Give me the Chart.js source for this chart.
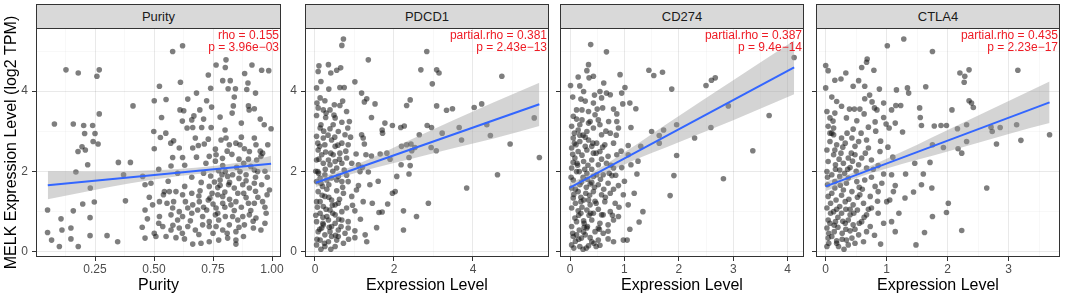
<!DOCTYPE html>
<html><head><meta charset="utf-8">
<script src="https://cdn.jsdelivr.net/npm/chart.js@4.4.1/dist/chart.umd.min.js"></script>
<style>
html,body{margin:0;padding:0;background:#fff;}
#wrap{position:relative;width:1065px;height:298px;overflow:hidden;font-family:"Liberation Sans",Arial,sans-serif;}
canvas{position:absolute;top:0;}
.strip{position:absolute;top:4px;height:25px;box-sizing:border-box;background:#d9d9d9;border:1px solid #333;color:#1a1a1a;font-size:13px;line-height:23px;text-align:center;}
.ann{position:absolute;top:29px;text-align:right;color:#ee1c25;font-size:12px;line-height:12px;white-space:nowrap;}
</style></head>
<body><div id="wrap"></div>
<script>
// ---------- DATA ----------
const panelNames = ['Purity','PDCD1','CD274','CTLA4'];
const annotations = [['rho = 0.155','p = 3.96e\u221203'],['partial.rho = 0.381','p = 2.43e\u221213'],['partial.rho = 0.387','p = 9.4e\u221214'],['partial.rho = 0.435','p = 2.23e\u221217']];
const xTitles = ['Purity','Expression Level','Expression Level','Expression Level'];
const yTitle = 'MELK Expression Level (log2 TPM)';

const yMajor = [0,2,4];
const yLabels = ['0','2','4'];
const yMinor = [1,3,5];

const purityXMajor = [0.25,0.5,0.75,1.0];
const purityXLabels = ['0.25','0.50','0.75','1.00'];
const purityXMinor = [0.125,0.375,0.625,0.875];
const pdcd1XMajor = [0,2,4];
const pdcd1XLabels = ['0','2','4'];
const pdcd1XMinor = [1,3,5];
const cd274XMajor = [0,1,2,3,4];
const cd274XLabels = ['0','1','2','3','4'];
const cd274XMinor = [0.5,1.5,2.5,3.5];
const ctla4XMajor = [0,1,2,3];
const ctla4XLabels = ['0','1','2','3'];
const ctla4XMinor = [0.5,1.5,2.5,3.5];

// [x, y]
const purityPoints = [[0.579,4.99],[0.621,5.13],[0.127,4.53],[0.179,4.45],[0.268,4.53],[0.258,4.37],[0.763,4.65],[0.805,4.78],[0.802,4.59],[0.915,4.65],[0.956,4.52],[0.986,4.51],[0.884,4.44],[0.791,4.26],[0.823,4.26],[0.612,4.22],[0.898,4.20],[0.523,4.12],[0.740,4.07],[0.814,4.06],[0.845,4.06],[0.893,4.04],[0.501,3.76],[0.551,3.79],[0.643,3.80],[0.723,3.76],[0.744,3.60],[0.411,3.63],[0.268,3.43],[0.610,3.53],[0.626,3.51],[0.694,3.53],[0.836,3.63],[0.900,3.63],[0.925,3.56],[0.903,3.53],[0.831,3.45],[0.669,3.38],[0.660,3.28],[0.532,3.34],[0.078,3.18],[0.158,3.18],[0.202,3.14],[0.240,3.14],[0.206,2.94],[0.250,2.94],[0.242,2.74],[0.263,2.68],[0.195,2.61],[0.209,2.53],[0.178,2.49],[0.219,2.16],[0.169,1.98],[0.349,2.22],[0.400,2.22],[0.371,1.91],[0.230,1.58],[0.499,2.99],[0.527,2.84],[0.501,2.56],[0.571,2.70],[0.583,2.76],[0.607,2.58],[0.621,2.34],[0.579,2.34],[0.572,2.13],[0.640,3.08],[0.664,3.09],[0.702,3.09],[0.742,3.09],[0.675,2.83],[0.688,2.64],[0.713,2.68],[0.664,2.58],[0.734,2.37],[0.763,2.41],[0.784,2.78],[0.801,3.03],[0.805,2.83],[0.819,2.66],[0.847,2.70],[0.864,2.66],[0.883,2.56],[0.904,2.49],[0.925,2.83],[0.932,2.66],[0.967,3.16],[0.996,3.06],[0.982,2.66],[0.960,2.45],[0.953,2.37],[0.935,2.28],[0.791,2.14],[0.774,2.01],[0.802,1.99],[0.788,1.91],[0.812,1.87],[0.833,1.91],[0.864,1.99],[0.890,1.91],[0.925,2.03],[0.939,1.99],[0.452,1.87],[0.487,1.70],[0.462,1.66],[0.544,1.49],[0.565,1.49],[0.593,1.49],[0.540,1.41],[0.621,1.41],[0.660,1.45],[0.695,1.51],[0.734,1.62],[0.756,1.73],[0.770,1.59],[0.746,1.45],[0.737,1.33],[0.770,1.41],[0.791,1.37],[0.816,1.66],[0.840,1.58],[0.855,1.45],[0.876,1.66],[0.904,1.58],[0.925,1.70],[0.956,1.66],[0.989,1.53],[0.979,1.41],[0.960,1.24],[0.925,1.20],[0.890,1.34],[0.847,1.24],[0.826,1.16],[0.791,1.20],[0.763,1.08],[0.723,1.03],[0.692,1.24],[0.664,1.16],[0.633,1.24],[0.583,1.24],[0.555,1.20],[0.523,1.24],[0.494,1.16],[0.579,1.08],[0.607,0.99],[0.643,1.08],[0.685,1.03],[0.379,1.26],[0.247,1.23],[0.198,1.18],[0.158,1.01],[0.049,1.03],[0.229,0.84],[0.106,0.81],[0.462,1.03],[0.472,0.81],[0.523,0.87],[0.572,0.91],[0.600,0.78],[0.621,0.87],[0.654,0.76],[0.706,0.87],[0.734,0.74],[0.760,0.91],[0.774,0.78],[0.802,0.87],[0.833,0.87],[0.855,0.78],[0.876,0.87],[0.904,0.91],[0.932,0.83],[0.975,0.95],[0.953,0.53],[0.921,0.58],[0.883,0.66],[0.847,0.49],[0.819,0.66],[0.791,0.53],[0.763,0.62],[0.734,0.62],[0.706,0.66],[0.675,0.53],[0.643,0.62],[0.607,0.58],[0.572,0.53],[0.537,0.62],[0.501,0.45],[0.462,0.33],[0.508,0.37],[0.551,0.37],[0.593,0.34],[0.629,0.31],[0.664,0.18],[0.699,0.20],[0.734,0.24],[0.774,0.28],[0.812,0.33],[0.847,0.28],[0.847,0.18],[0.879,0.37],[0.346,0.24],[0.301,0.39],[0.229,0.39],[0.179,0.12],[0.148,0.31],[0.148,0.58],[0.110,0.53],[0.066,0.28],[0.099,0.12],[0.049,0.47],[0.72,2.20],[0.76,2.25],[0.79,2.32],[0.83,2.42],[0.86,2.30],[0.88,2.20],[0.91,2.12],[0.74,1.88],[0.78,1.78],[0.82,1.72],[0.86,1.82],[0.89,1.76],[0.70,1.72],[0.73,1.28],[0.80,1.10],[0.84,1.02],[0.87,1.10],[0.91,1.02],[0.94,1.35],[0.75,1.18],[0.52,2.05],[0.56,1.75],[0.60,1.95],[0.63,2.15],[0.66,1.85],[0.68,2.35],[0.71,1.95],[0.73,2.80],[0.76,2.55],[0.78,1.65],[0.81,2.50],[0.85,2.10],[0.87,2.85],[0.90,2.30],[0.93,1.85],[0.95,2.50],[0.97,2.00],[0.62,0.45],[0.69,0.42],[0.75,0.45],[0.81,0.45],[0.86,0.60],[0.92,0.75],[0.97,0.70],[0.58,0.65],[0.66,0.95],[0.71,1.10],[0.77,0.95],[0.82,1.30],[0.88,1.45],[0.93,1.50],[0.97,1.10],[0.55,2.95],[0.62,3.25],[0.71,3.30],[0.78,3.35],[0.87,3.20],[0.95,3.30],[0.84,3.85],[0.93,3.95],[0.68,3.95],[0.73,4.40],[0.52,0.70],[0.48,1.35],[0.45,0.60],[0.69,1.38],[0.80,1.48],[0.90,1.20],[0.98,1.85],[0.63,1.62]];

const pdcd1Points = [[0.72,5.30],[0.68,5.14],[1.35,4.78],[2.83,4.99],[0.10,4.63],[0.34,4.66],[0.55,4.52],[0.65,4.58],[0.40,4.45],[0.08,4.49],[0.15,4.24],[0.04,4.08],[0.63,4.09],[0.74,4.09],[1.01,4.23],[2.68,4.53],[3.08,4.53],[3.14,4.45],[2.97,4.18],[4.73,4.37],[1.18,3.95],[1.31,3.81],[1.52,3.68],[1.25,3.73],[0.13,3.83],[0.25,3.76],[0.49,3.66],[0.63,3.64],[0.08,3.58],[0.21,3.53],[0.38,3.53],[0.80,3.49],[1.43,3.34],[2.41,3.78],[2.32,3.64],[3.08,3.63],[3.33,3.52],[3.48,3.56],[4.22,3.68],[4.03,3.59],[0.04,3.39],[0.27,3.34],[0.51,3.33],[0.68,3.22],[0.87,3.24],[1.77,3.20],[1.96,3.14],[2.26,3.13],[2.84,3.14],[2.95,3.09],[3.65,3.09],[4.35,3.16],[5.55,3.33],[0.13,3.08],[0.38,3.06],[0.59,2.99],[0.83,3.08],[0.76,2.91],[1.18,2.91],[1.70,3.03],[1.71,2.95],[2.17,3.09],[3.22,2.95],[3.71,2.78],[4.44,2.89],[4.94,2.68],[5.68,2.34],[0.04,2.87],[0.21,2.83],[0.42,2.78],[0.07,2.70],[0.25,2.66],[0.51,2.62],[0.68,2.70],[0.84,2.66],[1.22,2.83],[1.25,2.68],[1.04,2.43],[1.29,2.41],[1.43,2.38],[1.65,2.43],[1.82,2.45],[2.19,2.62],[2.32,2.66],[2.43,2.68],[2.53,2.59],[2.64,2.91],[2.94,2.59],[3.07,2.51],[2.38,2.34],[2.45,2.51],[2.18,2.16],[2.38,1.93],[2.41,2.14],[2.07,1.87],[4.62,1.91],[3.84,1.58],[0.08,2.53],[0.27,2.48],[0.46,2.41],[0.63,2.45],[0.80,2.33],[0.93,2.20],[1.10,2.16],[0.04,2.28],[0.21,2.20],[0.38,2.16],[0.55,2.08],[0.74,2.03],[1.14,1.99],[1.35,1.98],[0.07,1.99],[0.25,1.91],[0.42,1.83],[0.59,1.87],[0.84,1.74],[1.10,1.64],[1.39,1.66],[1.05,1.53],[0.04,1.74],[0.19,1.62],[0.35,1.66],[0.55,1.51],[0.72,1.45],[0.93,1.37],[1.22,1.24],[0.08,1.49],[0.25,1.37],[0.42,1.28],[0.59,1.20],[0.80,1.08],[1.01,1.01],[1.62,0.97],[1.70,0.98],[1.84,1.18],[1.96,1.45],[2.03,1.49],[2.87,1.20],[2.24,1.01],[2.57,0.87],[1.56,0.59],[1.27,0.41],[2.24,0.53],[0.04,1.24],[0.21,1.12],[0.38,1.03],[0.13,0.95],[0.30,0.87],[0.51,0.91],[0.68,0.78],[0.84,0.74],[0.04,0.74],[0.21,0.66],[0.42,0.62],[0.59,0.53],[1.01,0.51],[0.76,0.45],[0.08,0.49],[0.25,0.41],[0.42,0.37],[0.13,0.28],[0.34,0.24],[0.55,0.28],[0.72,0.20],[1.31,0.24],[0.04,0.16],[0.25,0.12],[0.51,0.12],[1.01,0.34],[0.15,3.16],[0.46,3.16],[0.17,2.41],[0.34,2.28],[0.51,2.24],[0.68,2.20],[0.13,1.83],[0.30,1.78],[0.68,1.74],[0.13,1.24],[0.51,1.16],[0.68,0.99],[0.34,0.78],[0.51,0.70],[0.17,0.58],[0.59,0.37],[0.84,0.58],[0.38,0.49],[0.05,0.30],[0.12,0.55],[0.20,0.85],[0.28,1.05],[0.36,0.60],[0.45,0.95],[0.52,0.40],[0.60,0.80],[0.18,1.40],[0.30,1.55],[0.44,1.15],[0.62,1.30],[0.06,1.10],[0.15,1.70],[0.26,2.05],[0.40,2.45],[0.58,2.65],[0.10,2.30],[0.33,2.90],[0.48,3.40],[0.22,3.00],[0.70,1.60],[0.78,2.50],[0.90,2.85],[0.02,0.90],[0.09,1.95],[0.24,0.20],[0.40,0.05],[0.66,0.62],[0.35,1.35],[0.12,2.62],[0.55,1.78],[0.28,3.45],[0.05,3.70],[0.45,2.00],[0.20,0.70],[0.62,2.30],[0.80,1.90],[0.95,1.15],[1.15,0.80],[1.45,1.20],[1.60,1.75],[1.90,2.30],[0.70,3.75],[0.35,4.05],[0.15,0.05],[0.85,0.30],[1.20,2.10],[0.50,2.85],[0.02,2.00]];

const cd274Points = [[0.38,5.16],[0.67,4.98],[0.34,4.66],[0.31,4.51],[0.43,4.37],[0.35,4.33],[0.92,4.41],[1.45,4.52],[1.54,4.39],[1.70,4.47],[0.01,4.14],[0.18,4.13],[0.25,3.99],[1.01,4.09],[0.95,3.95],[1.87,4.05],[2.50,4.14],[2.60,4.27],[2.67,4.33],[4.12,4.84],[0.55,3.99],[0.67,3.95],[0.74,3.91],[0.58,3.83],[0.43,3.70],[0.97,3.68],[1.10,3.70],[1.21,3.56],[0.12,3.53],[0.22,3.53],[0.34,3.49],[0.46,3.41],[0.60,3.58],[0.86,3.43],[0.06,3.37],[0.22,3.28],[0.37,3.24],[0.52,3.28],[0.71,3.24],[0.86,3.24],[1.12,3.09],[2.91,3.63],[3.66,3.39],[1.96,3.16],[2.59,3.09],[1.50,2.99],[1.64,2.89],[1.72,3.03],[1.64,2.70],[2.29,2.83],[1.96,2.39],[3.36,2.51],[1.91,1.89],[2.82,1.81],[1.84,1.39],[1.27,0.73],[1.34,0.99],[0.03,3.12],[0.15,3.03],[0.31,2.99],[0.43,3.08],[0.58,2.91],[0.74,2.95],[0.89,3.08],[0.06,2.83],[0.18,2.74],[0.34,2.78],[0.49,2.70],[0.64,2.66],[0.80,2.70],[1.07,2.64],[1.30,2.62],[0.03,2.58],[0.15,2.49],[0.31,2.53],[0.43,2.45],[0.55,2.49],[0.70,2.37],[0.86,2.41],[1.07,2.41],[0.09,2.33],[0.25,2.24],[0.40,2.28],[0.52,2.16],[0.67,2.20],[0.80,2.08],[0.95,2.09],[1.12,2.16],[0.03,2.08],[0.17,1.99],[0.31,1.95],[0.43,1.87],[0.61,1.91],[0.77,1.89],[1.23,1.93],[0.06,1.78],[0.21,1.73],[0.37,1.68],[0.52,1.66],[0.70,1.70],[0.89,1.64],[0.03,1.58],[0.15,1.49],[0.29,1.45],[0.43,1.49],[0.58,1.41],[0.74,1.45],[0.98,1.41],[0.06,1.33],[0.20,1.24],[0.34,1.28],[0.48,1.20],[0.64,1.24],[0.83,1.20],[1.07,1.16],[0.03,1.08],[0.15,1.01],[0.31,1.03],[0.43,0.95],[0.58,0.91],[0.74,0.99],[0.89,0.87],[0.09,0.83],[0.25,0.76],[0.40,0.78],[0.55,0.70],[0.70,0.66],[0.80,0.78],[0.03,0.62],[0.17,0.53],[0.31,0.58],[0.46,0.49],[0.61,0.45],[0.06,0.37],[0.21,0.33],[0.37,0.34],[0.52,0.28],[0.70,0.31],[0.98,0.28],[1.05,0.28],[0.03,0.16],[0.18,0.12],[0.34,0.14],[0.48,0.12],[0.80,0.24],[0.12,1.99],[0.25,1.28],[0.37,1.16],[0.12,0.74],[0.28,0.41],[0.40,0.24],[0.18,1.66],[0.11,2.66],[0.28,2.62],[0.40,2.62],[0.55,3.16],[0.18,3.16],[0.49,1.91],[0.61,0.91],[0.12,0.41],[0.08,2.95],[0.24,2.90],[0.13,2.20],[0.27,2.05],[0.07,1.42],[0.22,1.10],[0.35,0.90],[0.10,0.25],[0.26,0.60],[0.45,1.60],[0.20,3.80],[0.05,2.42],[0.32,1.80],[0.16,0.90],[0.24,0.05],[0.52,0.58],[0.05,0.45],[0.10,1.20],[0.14,2.15],[0.20,0.95],[0.24,1.85],[0.28,2.85],[0.32,0.62],[0.36,1.40],[0.40,2.05],[0.44,0.20],[0.48,2.45],[0.52,1.05],[0.56,1.80],[0.60,2.60],[0.65,1.35],[0.70,0.50],[0.75,2.15],[0.80,1.55],[0.85,2.90],[0.90,1.10],[0.02,1.85],[0.08,2.70],[0.12,3.30],[0.16,0.30],[0.22,2.40],[0.26,0.70],[0.30,1.60],[0.34,3.20],[0.38,0.95],[0.42,2.70],[0.46,1.25],[0.50,3.55],[0.54,0.55],[0.58,2.30],[0.62,1.55],[0.66,3.00],[0.72,1.95],[0.78,0.90],[0.84,1.90],[0.94,2.50],[0.05,3.85],[0.15,4.35],[0.28,3.75],[0.45,3.90],[0.62,4.20],[0.80,3.55],[1.00,1.75],[1.10,0.55],[1.18,1.45],[1.25,2.25],[0.07,0.08],[0.30,0.08],[0.55,0.15],[0.10,1.55],[0.20,1.35],[0.33,2.15],[0.06,2.22],[0.18,2.90],[0.40,1.72],[0.25,0.48]];

const ctla4Points = [[1.28,5.30],[1.01,5.13],[1.75,4.99],[0.00,4.64],[0.04,4.51],[0.68,4.80],[0.67,4.72],[0.59,4.59],[0.79,4.52],[0.33,4.45],[0.15,4.27],[0.54,4.26],[0.45,4.12],[0.00,4.08],[0.64,4.12],[2.20,4.45],[2.35,4.53],[2.28,4.37],[2.27,4.22],[3.15,4.52],[1.16,4.03],[1.34,4.08],[1.36,3.95],[1.64,4.11],[0.18,3.74],[0.26,3.62],[0.39,3.55],[0.47,3.55],[0.64,3.81],[0.76,3.73],[0.80,3.58],[0.84,3.53],[0.95,3.70],[1.08,3.53],[1.15,3.64],[1.23,3.64],[1.54,3.58],[1.55,3.34],[1.57,3.14],[2.07,3.53],[2.35,3.76],[2.39,3.70],[2.42,3.59],[0.02,3.49],[0.07,3.33],[0.15,3.45],[0.04,3.12],[0.13,3.08],[0.34,3.33],[0.51,3.26],[0.63,3.43],[0.81,3.23],[0.95,3.34],[0.99,3.18],[1.14,3.20],[1.26,2.98],[1.04,3.08],[1.78,3.13],[1.89,3.14],[1.98,3.14],[2.16,3.06],[2.31,3.16],[2.71,3.10],[2.73,2.99],[2.86,3.09],[3.13,3.16],[3.20,2.77],[3.67,2.91],[2.80,2.68],[2.31,2.74],[2.17,2.56],[2.23,2.45],[1.93,2.59],[1.75,2.66],[1.71,2.22],[1.46,2.20],[1.31,1.93],[1.08,1.91],[0.95,1.93],[0.86,2.14],[1.14,1.64],[1.11,1.49],[1.60,1.93],[1.57,1.66],[1.74,1.58],[1.44,1.48],[1.30,1.33],[1.00,1.24],[1.05,1.28],[2.01,1.20],[1.98,0.97],[2.64,1.58],[1.75,0.87],[2.23,0.52],[1.62,0.47],[1.48,0.16],[1.08,0.74],[1.14,0.49],[0.90,0.18],[0.13,2.91],[0.26,2.83],[0.07,2.74],[0.18,2.66],[0.32,2.70],[0.43,2.83],[0.54,2.74],[0.67,2.78],[0.70,2.58],[0.89,2.49],[0.02,2.53],[0.13,2.41],[0.25,2.45],[0.37,2.33],[0.48,2.41],[0.59,2.33],[0.75,2.28],[0.04,2.24],[0.16,2.16],[0.29,2.20],[0.40,2.09],[0.54,2.16],[0.67,2.08],[0.02,1.99],[0.10,1.91],[0.23,1.87],[0.37,1.83],[0.51,1.74],[0.64,1.78],[0.81,1.62],[0.03,1.66],[0.15,1.58],[0.29,1.53],[0.43,1.49],[0.56,1.41],[0.73,1.37],[0.86,1.49],[0.04,1.37],[0.17,1.28],[0.32,1.24],[0.45,1.16],[0.62,1.20],[0.75,1.08],[0.02,1.08],[0.13,0.99],[0.26,0.95],[0.40,0.91],[0.52,1.03],[0.67,0.91],[0.86,0.95],[0.04,0.78],[0.16,0.74],[0.32,0.70],[0.45,0.66],[0.59,0.74],[0.73,0.62],[0.02,0.58],[0.14,0.49],[0.27,0.45],[0.40,0.51],[0.54,0.41],[0.67,0.49],[0.04,0.33],[0.18,0.26],[0.34,0.28],[0.48,0.20],[0.62,0.24],[0.02,0.12],[0.21,0.12],[0.37,0.16],[0.15,2.53],[0.23,2.03],[0.34,1.70],[0.23,1.12],[0.37,0.78],[0.10,0.37],[0.48,2.62],[0.07,0.70],[0.15,1.74],[0.43,0.33],[0.08,1.20],[0.20,0.60],[0.30,0.05],[0.55,1.60],[0.10,2.95],[0.05,0.45],[0.10,1.45],[0.16,2.05],[0.20,0.85],[0.24,1.65],[0.28,2.60],[0.33,0.55],[0.38,1.30],[0.42,2.45],[0.46,0.95],[0.50,2.00],[0.55,0.70],[0.60,1.55],[0.65,2.45],[0.70,1.05],[0.75,1.85],[0.80,0.40],[0.85,1.25],[0.90,2.75],[0.95,0.70],[0.03,1.85],[0.07,2.95],[0.12,3.25],[0.18,0.20],[0.22,2.30],[0.27,0.30],[0.31,1.95],[0.35,2.95],[0.40,1.05],[0.45,3.05],[0.52,1.35],[0.58,2.95],[0.63,0.85],[0.70,3.10],[0.78,2.05],[0.82,3.00],[0.92,1.70],[1.02,2.60],[1.10,2.35],[1.20,0.95],[0.08,0.95],[0.14,0.65],[0.26,1.40],[0.33,1.05],[0.44,2.25],[0.56,3.55],[0.72,3.90],[0.88,4.05],[0.25,4.30],[0.10,3.85],[0.05,0.20],[0.28,0.75],[0.48,0.55],[0.18,1.05],[0.36,2.05]];

// fitted line [x, y] and confidence band [x, lower, upper]
const purityFit = [[0.05,1.65],[0.996,2.187]];
const purityBand = [[0.05,1.30,2.00],[0.2,1.475,1.995],[0.4,1.70,2.00],[0.6,1.872,2.052],[0.75,1.968,2.128],[0.9,2.013,2.253],[0.996,1.987,2.387]];
const pdcd1Fit = [[0.02,1.71],[5.68,3.672]];
const pdcd1Band = [[0.02,1.60,1.82],[0.6,1.83,1.99],[1.5,2.08,2.36],[2.5,2.32,2.82],[3.5,2.57,3.27],[4.5,2.81,3.71],[5.68,3.13,4.21]];
const cd274Fit = [[0.0,1.59],[4.12,4.589]];
const cd274Band = [[0.0,1.47,1.71],[0.35,1.765,1.925],[1.0,2.17,2.47],[2.0,2.72,3.38],[3.0,3.27,4.27],[4.12,3.92,5.26]];
const ctla4Fit = [[0.0,1.62],[3.67,3.719]];
const ctla4Band = [[0.0,1.50,1.74],[0.45,1.80,1.96],[1.0,2.07,2.31],[2.0,2.49,3.03],[3.0,2.93,3.75],[3.67,3.20,4.24]];

// ---------- LAYOUT ----------
const FONT = '"Liberation Sans", Arial, sans-serif';
const Y_MIN = -0.1425, Y_MAX = 5.575;
const panels = [
  {name:panelNames[0], ann:annotations[0], xTitle:xTitles[0], pts:purityPoints, fit:purityFit, band:purityBand, major:purityXMajor, labels:purityXLabels, minor:purityXMinor, xmin:0.0, xmax:1.038, cl:0, cw:292, left:36, right:281, yLab:true, yTitle:true},
  {name:panelNames[1], ann:annotations[1], xTitle:xTitles[1], pts:pdcd1Points, fit:pdcd1Fit, band:pdcd1Band, major:pdcd1XMajor, labels:pdcd1XLabels, minor:pdcd1XMinor, xmin:-0.253, xmax:5.924, cl:284, cw:275, left:305, right:549, yLab:true, yTitle:false},
  {name:panelNames[2], ann:annotations[2], xTitle:xTitles[2], pts:cd274Points, fit:cd274Fit, band:cd274Band, major:cd274XMajor, labels:cd274XLabels, minor:cd274XMinor, xmin:-0.184, xmax:4.301, cl:552, cw:261, left:560, right:804, yLab:false, yTitle:false},
  {name:panelNames[3], ann:annotations[3], xTitle:xTitles[3], pts:ctla4Points, fit:ctla4Fit, band:ctla4Band, major:ctla4XMajor, labels:ctla4XLabels, minor:ctla4XMinor, xmin:-0.159, xmax:3.841, cl:807, cw:258, left:816, right:1060, yLab:false, yTitle:false}
];

const wrap = document.getElementById('wrap');
const near = (arr, v) => arr.findIndex(m => Math.abs(m - v) < 1e-9);

const borderPlugin = {
  id: 'panelBorder',
  afterDraw(chart) {
    const a = chart.chartArea, c = chart.ctx;
    c.save();
    c.strokeStyle = '#333333';
    c.lineWidth = 1;
    c.strokeRect(a.left + 0.5, a.top - 0.5, a.right - a.left - 1, a.bottom - a.top);
    c.restore();
  }
};

function gridOpts(major) {
  return {
    color: ctx => (ctx.tick && near(major, ctx.tick.value) >= 0) ? 'rgba(0,0,0,0.085)' : 'rgba(0,0,0,0.045)',
    lineWidth: ctx => (ctx.tick && near(major, ctx.tick.value) >= 0) ? 1 : 0.7,
    tickColor: ctx => (ctx.tick && near(major, ctx.tick.value) >= 0) ? '#333333' : 'rgba(0,0,0,0)',
    tickLength: 4,
    drawTicks: true,
    drawOnChartArea: true
  };
}

panels.forEach(p => {
  const cv = document.createElement('canvas');
  cv.width = p.cw; cv.height = 298;
  cv.style.left = p.cl + 'px';
  wrap.appendChild(cv);
  const xTicks = p.major.concat(p.minor).sort((a, b) => a - b);
  const yTicks = yMajor.concat(yMinor).sort((a, b) => a - b);
  new Chart(cv.getContext('2d'), {
    type: 'scatter',
    data: { datasets: [
      { type:'line', data: p.fit.map(([x, y]) => ({x, y})), borderColor:'#3366ff', borderWidth:2, pointRadius:0, fill:false, tension:0 },
      { type:'line', data: p.band.map(([x, lo, hi]) => ({x, y: hi})), borderColor:'rgba(0,0,0,0)', borderWidth:0, pointRadius:0, fill:'+1', backgroundColor:'rgba(153,153,153,0.42)', cubicInterpolationMode:'monotone' },
      { type:'line', data: p.band.map(([x, lo, hi]) => ({x, y: lo})), borderColor:'rgba(0,0,0,0)', borderWidth:0, pointRadius:0, fill:false, cubicInterpolationMode:'monotone' },
      { type:'scatter', data: p.pts.map(([x, y]) => ({x, y})), pointRadius:2.8, pointBackgroundColor:'rgba(20,20,20,0.55)', pointBorderWidth:0, pointBorderColor:'rgba(0,0,0,0)', showLine:false }
    ]},
    options: {
      responsive:false, animation:false, devicePixelRatio:1, events:[],
      layout: { padding: { top:28, left:0, bottom:0, right: p.cw - (p.right - p.cl) } },
      plugins: { legend:{display:false}, tooltip:{enabled:false} },
      scales: {
        x: {
          type:'linear', min:p.xmin, max:p.xmax,
          afterBuildTicks: s => { s.ticks = xTicks.map(v => ({value:v})); },
          afterFit: s => { s.height = 41; },
          ticks: { autoSkip:false, maxRotation:0, minRotation:0, padding:1, color:'#4d4d4d', font:{size:12, family:FONT},
                   callback: v => { const i = near(p.major, v); return i >= 0 ? p.labels[i] : ''; } },
          grid: gridOpts(p.major),
          border: { display:false },
          title: { display:true, text:p.xTitle, color:'#000', font:{size:16, family:FONT, lineHeight:1.2}, padding:{top:0, bottom:3} }
        },
        y: {
          type:'linear', min:Y_MIN, max:Y_MAX,
          afterBuildTicks: s => { s.ticks = yTicks.map(v => ({value:v})); },
          afterFit: s => { s.width = p.left - p.cl; },
          ticks: { autoSkip:false, padding:4, color:'#4d4d4d', font:{size:12, family:FONT},
                   callback: v => { if (!p.yLab) return ''; const i = near(yMajor, v); return i >= 0 ? yLabels[i] : ''; } },
          grid: gridOpts(yMajor),
          border: { display:false },
          title: { display:p.yTitle, text:yTitle, color:'#000', font:{size:16, family:FONT, lineHeight:1.2}, padding:{top:2.4, bottom:0} }
        }
      }
    },
    plugins: [borderPlugin]
  });

  const st = document.createElement('div');
  st.className = 'strip';
  st.style.left = p.left + 'px';
  st.style.width = (p.right - p.left) + 'px';
  st.textContent = p.name;
  wrap.appendChild(st);

  const an = document.createElement('div');
  an.className = 'ann';
  an.style.right = (1065 - (p.right - 2)) + 'px';
  an.innerHTML = p.ann[0] + '<br>' + p.ann[1];
  wrap.appendChild(an);
});
</script>
</body></html>
